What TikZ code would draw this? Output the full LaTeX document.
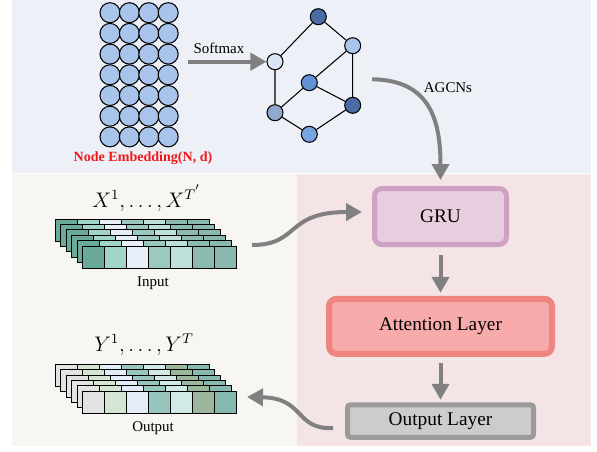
\documentclass[tikz,border=0pt]{standalone}
\usepackage[no-math]{fontspec}
\setmainfont{Liberation Serif}
\usepackage{amsmath}
\usetikzlibrary{arrows.meta}

\definecolor{topbg}{HTML}{EDF0F6}
\definecolor{leftbg}{HTML}{F7F6F2}
\definecolor{rightbg}{HTML}{F4E4E5}
\definecolor{embblue}{HTML}{A9C4EB}
\definecolor{embred}{HTML}{F01A1E}
\definecolor{flowgrey}{HTML}{808080}
\definecolor{gdark}{HTML}{4A6DA7}
\definecolor{glight}{HTML}{A8C5EC}
\definecolor{gpale}{HTML}{DAE5F5}
\definecolor{gmid}{HTML}{6393D6}
\definecolor{gslate}{HTML}{8FA8CB}
\definecolor{gsky}{HTML}{78A4E0}
\definecolor{gruline}{HTML}{CFA2C5}
\definecolor{grufill}{HTML}{E6CEDF}
\definecolor{attline}{HTML}{EF8580}
\definecolor{attfill}{HTML}{F7ABAA}
\definecolor{outline}{HTML}{9B9B9B}
\definecolor{outfill}{HTML}{CCCCCC}
% input tile colours
\definecolor{inA}{HTML}{6AAA99}
\definecolor{inB}{HTML}{A2D5CA}
\definecolor{inC}{HTML}{E8EEF8}
\definecolor{inD}{HTML}{9BC9BF}
\definecolor{inE}{HTML}{BDE1D8}
\definecolor{inF}{HTML}{8CBAB1}
\definecolor{inG}{HTML}{88B8AE}
% output tile colours
\definecolor{outA}{HTML}{E3E3E3}
\definecolor{outB}{HTML}{D4E6D3}
\definecolor{outC}{HTML}{E4ECF7}
\definecolor{outD}{HTML}{96C6BD}
\definecolor{outE}{HTML}{D2EAE6}
\definecolor{outF}{HTML}{9CB69B}
\definecolor{outG}{HTML}{86BAB0}

\begin{document}
\begin{tikzpicture}[
    gnode/.style={circle,draw=black,line width=0.6pt,minimum size=0.32cm,inner sep=0pt},
    layerbox/.style={rounded corners=0.15cm,line width=0.1cm,minimum height=1.12cm,font=\fontsize{11}{13}\selectfont},
    flow/.style={draw=flowgrey,line width=0.08cm,-{Triangle[length=0.32cm,width=0.34cm]}},
    lbl/.style={font=\fontsize{8.5}{10}\selectfont},
    tile/.style={draw=black,line width=0.5pt}
  ]
  \useasboundingbox (0,0) rectangle (11.94,9.02);
  % Draw panels
  \fill[topbg] (0.24,5.56) rectangle (11.82,9.02);
  \fill[leftbg] (0.24,0.1) rectangle (5.94,5.54);
  \fill[rightbg] (5.94,0.1) rectangle (11.82,5.54);

  % Node embedding
  \foreach \i in {0,...,3}
    \foreach \j in {0,...,6}
      \draw[fill=embblue,line width=0.6pt] ({2.2+0.388*\i},{8.766-0.414*\j}) circle (0.2cm);
  \node[text=embred,font=\bfseries\fontsize{8}{10}\selectfont] (emb) at (2.86,5.86) {Node Embedding(N, d)};

  % Graph
  \node[gnode,fill=gdark] (gtop) at (6.366,8.686) {};
  \node[gnode,fill=glight] (gru1) at (7.054,8.106) {};
  \node[gnode,fill=gpale] (gll) at (5.5,7.786) {};
  \node[gnode,fill=gmid] (gmid) at (6.186,7.366) {};
  \node[gnode,fill=gdark] (grl) at (7.054,6.914) {};
  \node[gnode,fill=gslate] (glb) at (5.5,6.766) {};
  \node[gnode,fill=gsky] (gbot) at (6.186,6.334) {};
  \draw[line width=0.6pt] (gtop) -- (gll) (gtop) -- (gru1) (gll) -- (glb)
    (gru1) -- (gmid) (gru1) -- (grl) (gmid) -- (glb) (gmid) -- (grl)
    (glb) -- (gbot) (gbot) -- (grl);

  % Softmax
  \coordinate (sm) at (3.76,7.786);
  \draw[flow] (sm) -- (gll);
  \node[lbl] (smlbl) at (4.38,8.06) {Softmax};

  % Layers
  \node[layerbox,draw=gruline,fill=grufill,minimum width=2.64cm] (gru) at (8.81,4.69) {GRU};
  \node[layerbox,draw=attline,fill=attfill,line width=0.12cm,minimum width=4.46cm,minimum height=1.1cm] (att) at (8.81,2.494) {Attention Layer};
  \node[layerbox,draw=outline,fill=outfill,rounded corners=0.06cm,minimum width=3.72cm,minimum height=0.65cm] (outl) at (8.81,0.6) {Output Layer};

  % AGCNs
  \coordinate (ag) at (7.44,7.434);
  \draw[flow,shorten >=0.12cm] (ag) .. controls (8.6,7.42) and (8.81,6.62) .. (gru.north);
  \node[lbl] (aglbl) at (8.96,7.26) {AGCNs};

  \draw[flow,shorten <=0.16cm,shorten >=0.06cm] (gru.south) -- (att.north);
  \draw[flow,shorten <=0.13cm,shorten >=0.05cm] (att.south) -- (outl.north);

  % Input tiles
  \foreach \k in {0,...,5}
    \foreach \c [count=\i from 0] in {inA,inB,inC,inD,inE,inF,inG}
      \draw[tile,fill=\c] ({1.104+0.11*\k+0.44*\i},{4.64-0.108*\k}) rectangle ++(0.44,-0.44);
  \node[font=\fontsize{11.5}{13}\selectfont] (xlbl) at (2.94,5.06) {$X^1,\ldots,X^{T^{'}}$};
  \node[lbl] (inlbl) at (3.06,3.36) {Input};

  % Output tiles
  \foreach \k in {0,...,5}
    \foreach \c [count=\i from 0] in {outA,outB,outC,outD,outE,outF,outG}
      \draw[tile,fill=\c] ({1.104+0.11*\k+0.44*\i},{1.734-0.108*\k}) rectangle ++(0.44,-0.44);
  \node[font=\fontsize{11.5}{13}\selectfont] (ylbl) at (2.88,2.12) {$Y^1,\ldots,Y^T$};
  \node[lbl] (outlbl) at (3.06,0.46) {Output};

  % Input and output arrows
  \coordinate (inarr) at (5.04,4.12);
  \draw[flow] (inarr) .. controls (6.0,4.12) and (5.7,4.78) .. ([xshift=-0.2cm,yshift=0.09cm]gru.west);
  \coordinate (outarr) at (4.94,1.08);
  \draw[flow] ([xshift=-0.24cm,yshift=-0.14cm]outl.west) .. controls (5.9,0.42) and (6.1,1.06) .. (outarr);
\end{tikzpicture}
\end{document}
